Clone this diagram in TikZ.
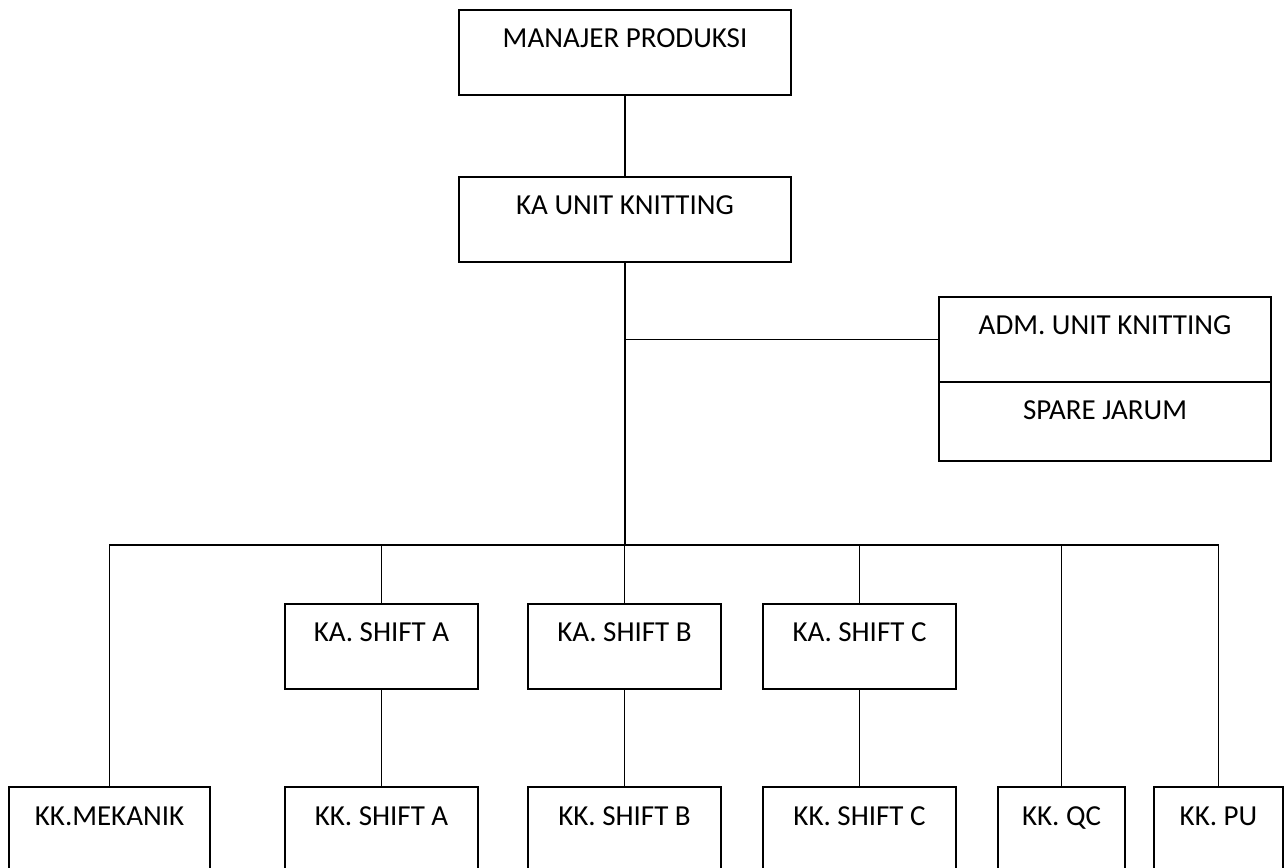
\documentclass[tikz,border=0pt]{standalone}
\usepackage{fontspec}
\setmainfont{Carlito}
\usetikzlibrary{positioning}

\begin{document}
\begin{tikzpicture}[x=0.02cm,y=-0.02cm,line width=1.1pt,
  jab/.style={draw,inner sep=0pt,outer sep=0pt,text height=0.76cm,text depth=0.94cm,font=\fontsize{16.5}{20}\selectfont},
  lebar/.style={jab,minimum width=6.64cm,anchor=north},
  sedang/.style={jab,minimum width=3.86cm,anchor=north}]
\useasboundingbox (0,0) rectangle (1284,868);
\clip (0,0) rectangle (1284,868);
% atas
\node[lebar] (mgr) at (625,10) {MANAJER PRODUKSI};
\node[lebar] (unit) at (625,177) {KA UNIT KNITTING};
\node[lebar] (adm) at (1105,297) {ADM. UNIT KNITTING};
\node[lebar,text depth=0.82cm] (spare) at (adm.south) {SPARE JARUM};
\coordinate (bus) at (625,545);
% kepala shift
\node[sedang] (kaA) at (381.5,604) {KA. SHIFT A};
\node[sedang] (kaB) at (624.5,604) {KA. SHIFT B};
\node[sedang] (kaC) at (859.5,604) {KA. SHIFT C};
% kepala kelompok
\node[sedang,minimum width=4.02cm] (mek) at (109.5,787) {KK.MEKANIK};
\node[sedang] (kkA) at (381.5,787) {KK. SHIFT A};
\node[sedang] (kkB) at (624.5,787) {KK. SHIFT B};
\node[sedang] (kkC) at (859.5,787) {KK. SHIFT C};
\node[sedang,minimum width=2.54cm] (qc) at (1061.5,787) {KK. QC};
\node[sedang,minimum width=2.58cm] (pu) at (1218.5,787) {KK. PU};
% garis
\draw (mgr) -- (unit);
\draw (unit.south) -- (unit.south |- bus);
\draw (adm.west) -- (adm.west -| unit.south);
\draw (mek.north) |- (pu.north |- bus) -- (pu.north);
\foreach \n in {kaA,kaB,kaC,qc} \draw (\n.north) -- (\n.north |- bus);
\foreach \a/\b in {kaA/kkA,kaB/kkB,kaC/kkC} \draw (\a) -- (\b);
\end{tikzpicture}
\end{document}
